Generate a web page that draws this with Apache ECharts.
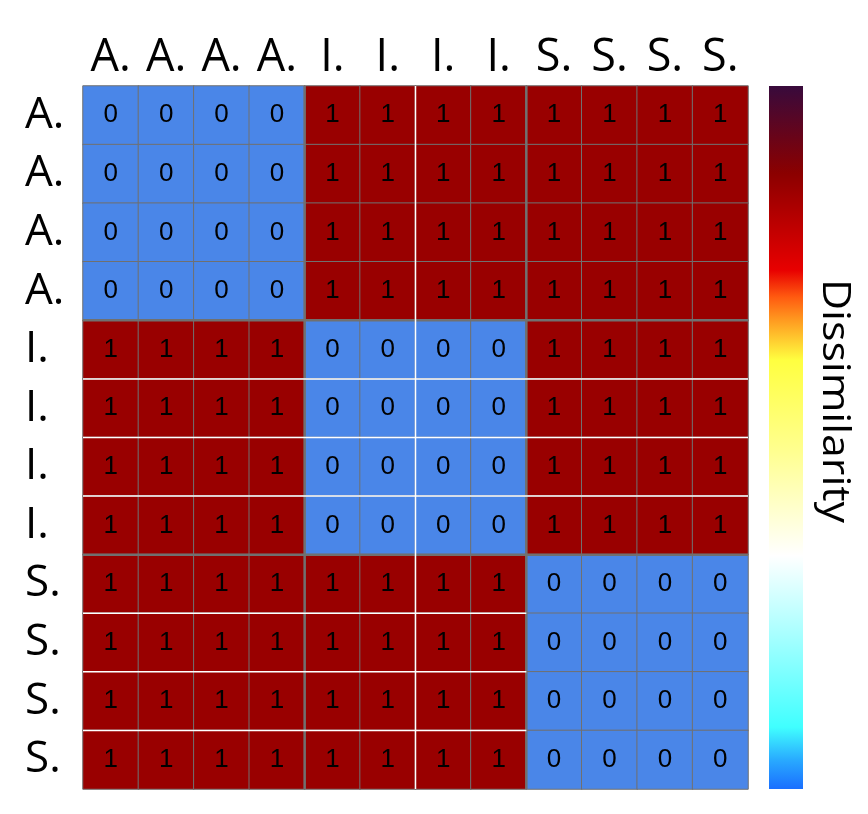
<!DOCTYPE html>
<html>
<head>
<meta charset="utf-8">
<script src="https://cdn.jsdelivr.net/npm/echarts@6/dist/echarts.min.js"></script>
<style>
    html, body { margin: 0; padding: 0; background: #fff; }
    #heatmap { width: 868px; height: 814px; }
</style>
</head>
<body>
<div id="heatmap"></div>
<script>
// row / column labels
var labels = ['A.', 'A.', 'A.', 'A.', 'I.', 'I.', 'I.', 'I.', 'S.', 'S.', 'S.', 'S.'];

// dissimilarity matrix, one row per label
var matrix = [
    [0, 0, 0, 0, 1, 1, 1, 1, 1, 1, 1, 1],
    [0, 0, 0, 0, 1, 1, 1, 1, 1, 1, 1, 1],
    [0, 0, 0, 0, 1, 1, 1, 1, 1, 1, 1, 1],
    [0, 0, 0, 0, 1, 1, 1, 1, 1, 1, 1, 1],
    [1, 1, 1, 1, 0, 0, 0, 0, 1, 1, 1, 1],
    [1, 1, 1, 1, 0, 0, 0, 0, 1, 1, 1, 1],
    [1, 1, 1, 1, 0, 0, 0, 0, 1, 1, 1, 1],
    [1, 1, 1, 1, 0, 0, 0, 0, 1, 1, 1, 1],
    [1, 1, 1, 1, 1, 1, 1, 1, 0, 0, 0, 0],
    [1, 1, 1, 1, 1, 1, 1, 1, 0, 0, 0, 0],
    [1, 1, 1, 1, 1, 1, 1, 1, 0, 0, 0, 0],
    [1, 1, 1, 1, 1, 1, 1, 1, 0, 0, 0, 0]
];

// colour of each value
var cellColors = ['#4a86e8', '#990000'];

// separator lines in cell units: [vertical?, boundary, from, to]
var whiteSeps = [
    [1, 6, 0, 12],
    [0, 5, 0, 12],
    [0, 6, 0, 12],
    [0, 7, 0, 12],
    [0, 9, 0, 8],
    [0, 10, 0, 8],
    [0, 11, 0, 8]
];
var blockSeps = [
    [1, 4, 0, 12],
    [1, 8, 0, 12],
    [0, 4, 0, 12],
    [0, 8, 0, 12]
];

// colour bar stops, top (offset 0) to bottom
var barStops = [
    [0, '#380a3c'],
    [0.124, '#8b0000'],
    [0.262, '#e80000'],
    [0.30, '#ff5a10'],
    [0.333, '#ff9a20'],
    [0.39, '#ffff40'],
    [0.52, '#ffff90'],
    [0.617, '#ffffd8'],
    [0.668, '#ffffff'],
    [0.77, '#b0ffff'],
    [0.912, '#40ffff'],
    [0.96, '#28a8ff'],
    [1, '#1a6fff']
];

var heatData = [];
for (var r = 0; r < matrix.length; r++) {
    for (var c = 0; c < matrix[r].length; c++) {
        heatData.push([c, r, matrix[r][c]]);
    }
}

function sepRenderer(list, color, width) {
    return function (params, api) {
        var s = list[params.dataIndex];
        var size = api.size([1, 1]);
        var origin = api.coord([0, 0]);
        var x0 = origin[0] - size[0] / 2;
        var y0 = origin[1] - size[1] / 2;
        var shape;
        if (s[0] === 1) {
            var x = x0 + s[1] * size[0];
            shape = {x1: x, y1: y0 + s[2] * size[1], x2: x, y2: y0 + s[3] * size[1]};
        } else {
            var y = y0 + s[1] * size[1];
            shape = {x1: x0 + s[2] * size[0], y1: y, x2: x0 + s[3] * size[0], y2: y};
        }
        return {
            type: 'line',
            shape: shape,
            style: {stroke: color, lineWidth: width}
        };
    };
}

var chart = echarts.init(document.getElementById('heatmap'));
var option = {
    backgroundColor: '#fff',
    animation: false,
    grid: {
        left: 83,
        top: 86,
        width: 665,
        height: 703
    },
    xAxis: {
        type: 'category',
        position: 'top',
        data: labels,
        axisLine: {show: false},
        axisTick: {show: false},
        splitArea: {show: false},
        axisLabel: {
            interval: 0,
            margin: 5,
            fontSize: 45,
            lineHeight: 45,
            fontFamily: 'Open Sans',
            color: '#000'
        }
    },
    yAxis: {
        type: 'category',
        inverse: true,
        data: labels,
        axisLine: {show: false},
        axisTick: {show: false},
        axisLabel: {
            interval: 0,
            margin: 58,
            align: 'left',
            padding: [4, 0, 0, 0],
            fontSize: 44,
            fontFamily: 'Open Sans',
            color: '#000'
        }
    },
    visualMap: {
        type: 'piecewise',
        show: false,
        dimension: 2,
        seriesIndex: 0,
        pieces: [
            {value: 0, color: cellColors[0]},
            {value: 1, color: cellColors[1]}
        ]
    },
    graphic: [
        {
            type: 'rect',
            left: 769,
            top: 86,
            shape: {width: 34, height: 703},
            style: {
                fill: new echarts.graphic.LinearGradient(0, 0, 0, 1, barStops.map(function (s) {
                    return {offset: s[0], color: s[1]};
                }))
            }
        },
        {
            type: 'text',
            x: 834,
            y: 401,
            rotation: -Math.PI / 2,
            scaleX: 1.1,
            style: {
                text: 'Dissimilarity',
                fontSize: 39,
                fontFamily: 'Open Sans',
                fill: '#000',
                align: 'center',
                verticalAlign: 'middle'
            }
        }
    ],
    series: [
        {
            type: 'heatmap',
            data: heatData,
            itemStyle: {
                borderColor: '#707070',
                borderWidth: 1
            },
            label: {
                show: true,
                fontSize: 26,
                fontFamily: 'Liberation Sans',
                color: '#000',
                formatter: function (p) {
                    return p.value[2];
                }
            },
            emphasis: {disabled: true}
        },
        {
            type: 'custom',
            silent: true,
            z: 5,
            data: blockSeps,
            renderItem: sepRenderer(blockSeps, '#707070', 2.5)
        },
        {
            type: 'custom',
            silent: true,
            z: 6,
            data: whiteSeps,
            renderItem: sepRenderer(whiteSeps, '#ffffff', 1.5)
        }
    ]
};
chart.setOption(option);
</script>
</body>
</html>
